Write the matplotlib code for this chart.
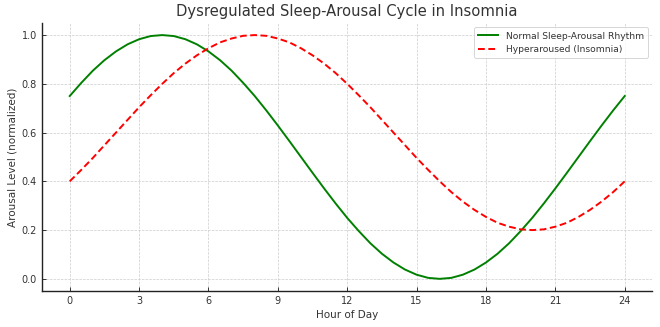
import matplotlib
matplotlib.use("Agg")
import matplotlib.pyplot as plt

hours = [h / 2 for h in range(49)]
normal = [0.75, 0.804, 0.854, 0.897, 0.933, 0.962, 0.983, 0.996, 1.0, 0.996, 0.983, 0.962,
          0.933, 0.897, 0.854, 0.804, 0.75, 0.691, 0.629, 0.565, 0.5, 0.435, 0.371, 0.309,
          0.25, 0.196, 0.146, 0.103, 0.067, 0.038, 0.017, 0.004, 0.0, 0.004, 0.017, 0.038,
          0.067, 0.103, 0.146, 0.196, 0.25, 0.309, 0.371, 0.435, 0.5, 0.565, 0.629, 0.691, 0.75]
insomnia = [0.4, 0.447, 0.496, 0.548, 0.6, 0.652, 0.704, 0.753, 0.8, 0.844, 0.883, 0.917,
            0.946, 0.970, 0.986, 0.997, 1.0, 0.997, 0.986, 0.970, 0.946, 0.917, 0.883, 0.844,
            0.8, 0.753, 0.704, 0.652, 0.6, 0.548, 0.496, 0.447, 0.4, 0.356, 0.317, 0.283,
            0.254, 0.230, 0.214, 0.203, 0.2, 0.203, 0.214, 0.230, 0.254, 0.283, 0.317, 0.356, 0.4]
xticks = [0, 3, 6, 9, 12, 15, 18, 21, 24]
yticks = [0.0, 0.2, 0.4, 0.6, 0.8, 1.0]

txt = "#333333"
fig = plt.figure(figsize=(6.6, 3.27), dpi=100)
ax = fig.add_axes([0.0636, 0.110, 0.925, 0.820])

ax.plot(hours, normal, color="green", lw=1.4, label="Normal Sleep-Arousal Rhythm")
ax.plot(hours, insomnia, color="red", lw=1.4, ls=(0, (3.5, 1.8)), label="Hyperaroused (Insomnia)")

ax.set_xticks(xticks)
ax.set_yticks(yticks)
ax.set_yticklabels([f"{v:.1f}" for v in yticks])
ax.tick_params(direction="in", labelsize=7, colors=txt, length=3, width=0.7)
for lab in ax.get_xticklabels() + ax.get_yticklabels():
    lab.set_color(txt)

ax.grid(True, ls="--", lw=0.5, color="#cccccc")
ax.set_axisbelow(True)
for s in ["top", "right"]:
    ax.spines[s].set_visible(False)
for s in ["left", "bottom"]:
    ax.spines[s].set_linewidth(1.0)
    ax.spines[s].set_color("#222222")

ax.set_title("Dysregulated Sleep-Arousal Cycle in Insomnia", fontsize=10.6, color=txt, pad=5)
ax.set_xlabel("Hour of Day", fontsize=7.5, color=txt, labelpad=3)
ax.set_ylabel("Arousal Level (normalized)", fontsize=7.5, color=txt, labelpad=3)

leg = ax.legend(loc="upper right", fontsize=6.6, frameon=True, handlelength=2.2,
                borderpad=0.45, labelspacing=0.45)
leg.get_frame().set_edgecolor("#cccccc")
leg.get_frame().set_linewidth(0.7)
for t in leg.get_texts():
    t.set_color(txt)

fig.savefig("out.png", dpi=100)
